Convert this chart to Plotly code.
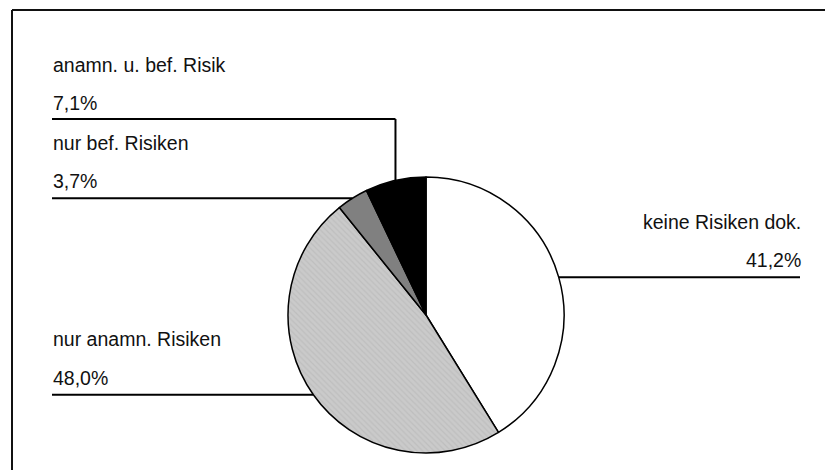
import math
import plotly.graph_objects as go

# ---- data ----
labels = ["keine Risiken dok.", "nur anamn. Risiken", "nur bef. Risiken", "anamn. u. bef. Risik"]
values = [41.2, 48.0, 3.7, 7.1]
colors = ["#ffffff", "#cacaca", "#808080", "#000000"]
pct_text = [f"{v:.1f}".replace(".", ",") + "%" for v in values]

W, H = 825, 470
FONT = dict(family="Liberation Sans, Arial, sans-serif", size=19.5, color="#111111")

# pie geometry (pixels)
cx, cy, r = 426, 315, 138

def px(x):
    return x / W

def py(y):
    return 1 - y / H

fig = go.Figure()
fig.add_trace(go.Pie(
    labels=labels,
    values=values,
    sort=False,
    direction="clockwise",
    rotation=0,
    textinfo="none",
    hoverinfo="label+percent",
    showlegend=False,
    marker=dict(
        colors=colors,
        line=dict(color="#000000", width=1.5),
        pattern=dict(shape=["", "\\", "", ""],
                     fgcolor=["#ffffff", "#b2b2b2", "#808080", "#000000"],
                     fillmode="overlay",
                     size=4, solidity=0.3),
    ),
    domain=dict(x=[px(cx - r), px(cx + r)], y=[py(cy + r), py(cy - r)]),
))

# slice mid-angle anchor points on the pie rim (clockwise from 12 o'clock)
total = sum(values)
cum = 0
anchors = []
for v in values:
    mid = (cum + v / 2) / total * 2 * math.pi
    anchors.append((cx + r * math.sin(mid), cy - r * math.cos(mid)))
    cum += v

shapes = []
annotations = []
LW = dict(color="#000000", width=2)

def line(x0, y0, x1, y1):
    shapes.append(dict(type="line", xref="paper", yref="paper",
                       x0=px(x0), y0=py(y0), x1=px(x1), y1=py(y1), line=LW))

def text(s, x, baseline, anchor="left"):
    annotations.append(dict(text=s, xref="paper", yref="paper", x=px(x), y=py(baseline + 5),
                            xanchor=anchor, yanchor="bottom", showarrow=False, font=FONT,
                            borderpad=0))

# keine Risiken dok. (right)
ax, ay = anchors[0]
line(ax, ay, 800, ay)
text(labels[0], 802, ay - 48, "right")
text(pct_text[0], 802, ay - 10, "right")

# nur anamn. Risiken (left bottom)
ax, ay = anchors[1]
line(52, ay, ax, ay)
text(labels[1], 52, ay - 49)
text(pct_text[1], 52, ay - 10)

# nur bef. Risiken
ax, ay = anchors[2]
line(52, ay, ax, ay)
text(labels[2], 52, ay - 48)
text(pct_text[2], 52, ay - 10)

# anamn. u. bef. Risik (elbow leader)
ax, ay = anchors[3]
ly = 119
line(52, ly, ax, ly)
line(ax, ly, ax, ay)
text(labels[3], 52, ly - 47)
text(pct_text[3], 52, ly - 9)

# frame (top and left edges visible)
shapes.append(dict(type="line", xref="paper", yref="paper", x0=px(12), y0=py(10), x1=1.0, y1=py(10),
                   line=dict(color="#111111", width=2)))
shapes.append(dict(type="line", xref="paper", yref="paper", x0=px(12), y0=py(10), x1=px(12), y1=0.0,
                   line=dict(color="#111111", width=2)))

fig.update_layout(
    width=W, height=H,
    margin=dict(l=0, r=0, t=0, b=0),
    paper_bgcolor="#ffffff",
    plot_bgcolor="#ffffff",
    shapes=shapes,
    annotations=annotations,
)

fig.write_html("out.html")
